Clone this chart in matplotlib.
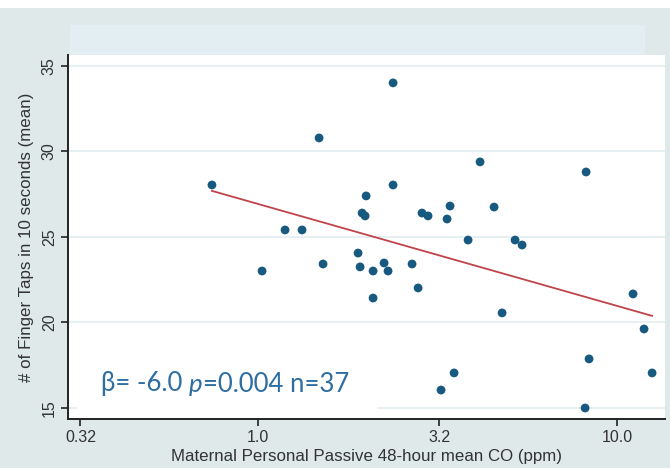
import numpy as np
import matplotlib
matplotlib.use("Agg")
import matplotlib.pyplot as plt
from matplotlib.patches import Rectangle
from matplotlib.offsetbox import TextArea, HPacker, AnnotationBbox

# ---- data ----
co_ppm = [0.744, 1.026, 1.189, 1.326, 1.479, 1.517, 1.899, 1.924, 1.949, 1.987,
          2.000, 2.091, 2.091, 2.244, 2.302, 2.377, 2.377, 2.685, 2.791, 2.862,
          2.975, 3.361, 3.426, 3.234, 3.516, 3.846, 4.153, 4.544, 4.783, 5.199,
          5.438, 8.199, 8.356, 8.147, 11.08, 11.89, 12.52]
taps = [28.04, 23.01, 25.41, 25.41, 30.79, 23.42, 24.06, 23.25, 26.40, 26.23,
        27.40, 23.01, 21.43, 23.48, 23.01, 34.01, 28.04, 23.42, 22.02, 26.40,
        26.23, 26.05, 26.81, 16.05, 17.05, 24.82, 29.39, 26.75, 20.56, 24.82,
        24.53, 28.80, 17.87, 15.00, 21.67, 19.62, 17.05]
fit_intercept = 26.93
fit_slope = -5.96          # per log10(ppm)
x_ticks = [0.32, 1.0, 3.2, 10.0]
x_ticklabels = ["0.32", "1.0", "3.2", "10.0"]
y_ticks = [15, 20, 25, 30, 35]
xlabel = "Maternal Personal Passive 48-hour mean CO (ppm)"
ylabel = "# of Finger Taps in 10 seconds (mean)"
stat_parts = ["\u03b2= -6.0 ", "p", "=0.004 n=37"]

W, H = 670, 468
fig = plt.figure(figsize=(W / 100, H / 100), dpi=100)
fig.patch.set_facecolor("#dfe9ea")

# top white strip
fig.add_artist(Rectangle((0, 1 - 8 / H), 1, 8 / H, transform=fig.transFigure,
                         facecolor="white", edgecolor="none", zorder=0))
# light band above plot region
fig.add_artist(Rectangle((70 / W, 1 - 55 / H), (645 - 70) / W, 30 / H,
                         transform=fig.transFigure, facecolor="#e3eef2",
                         edgecolor="none", zorder=0))

ax = fig.add_axes([68 / W, 1 - 419 / H, (665 - 68) / W, (419 - 55) / H])
ax.set_facecolor("white")
ax.set_xscale("log")
ax.set_xlim(0.2955, 13.6)
ax.set_ylim(14.357, 35.64)

ax.set_axisbelow(True)
ax.yaxis.grid(True, color="#e2ecef", linewidth=1.2)
ax.xaxis.grid(False)

ax.scatter(co_ppm, taps, s=40, color="#17597f", edgecolors="none", zorder=3)

xl = np.array([min(co_ppm), max(co_ppm)])
yl = fit_intercept + fit_slope * np.log10(xl)
ax.plot(xl, yl, color="#c0434b", linewidth=1.3, zorder=2)

# white box behind the statistic text
ax.add_patch(Rectangle((9 / 597, 3 / 364), (377 - 77) / 597, (416 - 358) / 364,
                       transform=ax.transAxes, facecolor="white",
                       edgecolor="none", zorder=1))

tfont = ["Lato", "DejaVu Sans"]
col = "#2d6ea3"
fs = 18.5
areas = [TextArea(stat_parts[0], textprops=dict(color=col, fontsize=fs, family=tfont)),
         TextArea(stat_parts[1], textprops=dict(color=col, fontsize=fs, family=tfont, style="italic")),
         TextArea(stat_parts[2], textprops=dict(color=col, fontsize=fs, family=tfont))]
box = HPacker(children=areas, align="baseline", pad=0, sep=0)
ab = AnnotationBbox(box, ((101 - 68) / 597, (419 - 384) / 364), xycoords="axes fraction",
                    box_alignment=(0, 0.5), frameon=False, pad=0, zorder=4)
ax.add_artist(ab)

for s in ["top", "right"]:
    ax.spines[s].set_visible(False)
for s in ["left", "bottom"]:
    ax.spines[s].set_color("#222222")
    ax.spines[s].set_linewidth(1.4)

lfont = ["Liberation Sans", "DejaVu Sans"]
ax.set_xticks(x_ticks)
ax.set_xticklabels(x_ticklabels, family=lfont, fontsize=11.5, color="#333333")
ax.xaxis.set_minor_locator(matplotlib.ticker.NullLocator())
ax.set_yticks(y_ticks)
ax.set_yticklabels([str(v) for v in y_ticks], family=lfont, fontsize=11.5,
                   color="#333333", rotation=90, va="center")
ax.tick_params(axis="both", direction="out", length=5, width=1.2, color="#222222", pad=3)

ax.set_xlabel(xlabel, family=lfont, fontsize=12.2, color="#333333", labelpad=3)
ax.set_ylabel(ylabel, family=lfont, fontsize=12.2, color="#333333", labelpad=6)

fig.savefig("out.png", dpi=100, facecolor=fig.get_facecolor())
